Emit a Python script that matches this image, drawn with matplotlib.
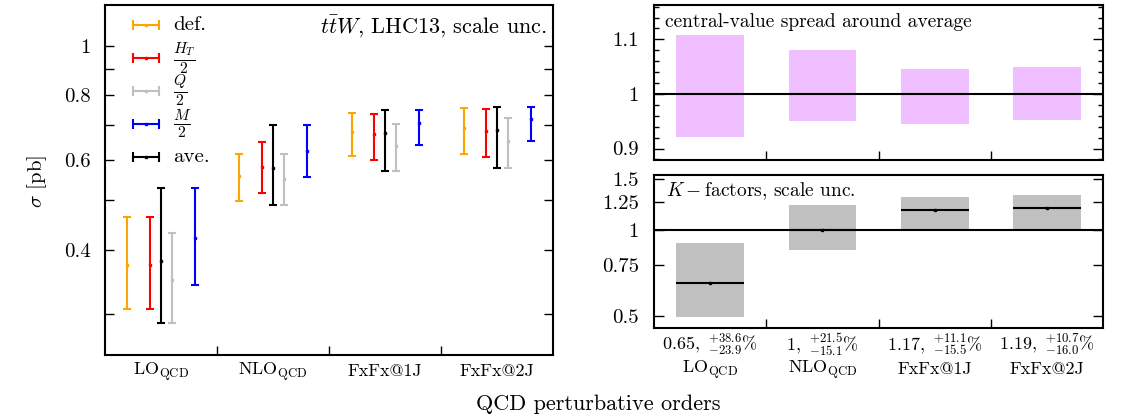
import matplotlib

matplotlib.use("Agg")
import matplotlib.pyplot as plt
import matplotlib.transforms as mtransforms
import numpy as np
from matplotlib.ticker import FixedLocator, MultipleLocator, NullFormatter, NullLocator

plt.rcParams["font.family"] = ["cmr10", "DejaVu Serif"]
plt.rcParams["mathtext.fontset"] = "cm"
plt.rcParams["axes.unicode_minus"] = False
plt.rcParams["axes.linewidth"] = 1.5

# --- data -------------------------------------------------------------------
orders = [r"$\mathrm{LO}_{\mathrm{QCD}}$", r"$\mathrm{NLO}_{\mathrm{QCD}}$", "FxFx@1J", "FxFx@2J"]

# cross sections [pb] per scale choice: central value, lower and upper scale bound
def_c = [0.3747, 0.5574, 0.6792, 0.6915]
def_lo = [0.3074, 0.4995, 0.6097, 0.6163]
def_hi = [0.4634, 0.6163, 0.7397, 0.7567]

ht_c = [0.3747, 0.5798, 0.6722, 0.6823]
ht_lo = [0.3074, 0.5156, 0.5999, 0.6069]
ht_hi = [0.4634, 0.6505, 0.7364, 0.7521]

ave_c = [0.3803, 0.5780, 0.6752, 0.6853]
ave_lo = [0.2891, 0.4906, 0.5693, 0.5780]
ave_hi = [0.5273, 0.7007, 0.7499, 0.7614]

q_c = [0.3506, 0.5490, 0.6380, 0.6525]
q_lo = [0.2891, 0.4906, 0.5693, 0.5780]
q_hi = [0.4312, 0.6144, 0.7030, 0.7245]

m_c = [0.4217, 0.6246, 0.7063, 0.7189]
m_lo = [0.3428, 0.5541, 0.6419, 0.6514]
m_hi = [0.5273, 0.7007, 0.7489, 0.7614]

# K-factors w.r.t. NLO average, with scale uncertainty in percent
k_c = [0.65, 1.0, 1.17, 1.19]
k_up = [38.6, 21.5, 11.1, 10.7]
k_dn = [23.9, 15.1, 15.5, 16.0]
k_txt = ["0.65", "1", "1.17", "1.19"]

# --- styling ----------------------------------------------------------------
series = [
    ("def.", "#ffa500", def_c, def_lo, def_hi),
    (r"$\frac{H_T}{2}$", "#ff0000", ht_c, ht_lo, ht_hi),
    ("ave.", "#000000", ave_c, ave_lo, ave_hi),
    (r"$\frac{Q}{2}$", "#c0c0c0", q_c, q_lo, q_hi),
    (r"$\frac{M}{2}$", "#0000ff", m_c, m_lo, m_hi),
]
offsets = [-0.3, -0.1, 0.0, 0.1, 0.3]
legend_order = [0, 1, 3, 4, 2]

W, H = 1122, 419


def px_axes(x0, y0, x1, y1):
    return [x0 / W, 1 - y1 / H, (x1 - x0) / W, (y1 - y0) / H]


fig = plt.figure(figsize=(W / 100, H / 100), dpi=100)
ax = fig.add_axes(px_axes(105, 5, 553.3, 355))
ax_top = fig.add_axes(px_axes(654, 5.5, 1103.3, 160))
ax_k = fig.add_axes(px_axes(654, 175, 1103.3, 328.3))

x = np.arange(len(orders))


def style_x(a):
    a.set_xlim(-0.5, len(orders) - 0.5)
    a.xaxis.set_major_locator(FixedLocator(x))
    a.xaxis.set_major_formatter(NullFormatter())
    a.xaxis.set_minor_locator(FixedLocator(x[:-1] + 0.5))
    a.tick_params(axis="x", which="major", length=0)
    a.tick_params(axis="x", which="minor", direction="in", length=6.5, width=1.0)


# --- left: cross sections ---------------------------------------------------
for (label, color, c, lo, hi), off in zip(series, offsets):
    c, lo, hi = np.asarray(c), np.asarray(lo), np.asarray(hi)
    ax.errorbar(x + off, c, yerr=[c - lo, hi - c], fmt="s", ms=2, color=color,
                lw=1.5, capsize=2.6, capthick=1.5)

ax.set_yscale("log")
ax.set_ylim(0.25, 1.2)
ax.yaxis.set_major_locator(FixedLocator([0.4, 0.6, 0.8, 1.0]))
ax.set_yticklabels(["0.4", "0.6", "0.8", "1"])
ax.yaxis.set_minor_locator(FixedLocator([0.3, 0.5, 0.7, 0.9]))
ax.yaxis.set_minor_formatter(NullFormatter())
ax.tick_params(axis="y", which="both", direction="in", length=6.5, width=1.0,
               left=True, right=True, pad=10.5, labelsize=15)
style_x(ax)

lbl_tr = mtransforms.blended_transform_factory(ax.transData, ax.transAxes)
for xi, name in zip(x, orders):
    ax.text(xi, -0.048, name, transform=lbl_tr, ha="center", va="center", fontsize=13)

# legend drawn as horizontal error bars
for row, idx in enumerate(legend_order):
    label, color = series[idx][0], series[idx][1]
    ly = 0.943 - row * 0.094
    ax.plot([0.063, 0.121], [ly, ly], transform=ax.transAxes, color=color, lw=1.5,
            marker="|", ms=7, mew=1.5, clip_on=False)
    ax.plot([0.092], [ly], transform=ax.transAxes, color=color, marker="s", ms=2)
    ax.text(0.152, ly, label, transform=ax.transAxes, ha="left", va="center",
            fontsize=16 if label.startswith("$") else 15)

ax.text(0.986, 0.937, r"$t\bar{t}W$, LHC13, scale unc.", transform=ax.transAxes,
        ha="right", va="center", fontsize=16)

# --- right top: spread of central values around the average ------------------
centrals = np.array([def_c, ht_c, q_c, m_c])
spread_hi = centrals.max(axis=0) / np.asarray(ave_c)
spread_lo = centrals.min(axis=0) / np.asarray(ave_c)
ax_top.bar(x, spread_hi - spread_lo, bottom=spread_lo, width=0.6, color="#efbfff")
ax_top.axhline(1.0, color="black", lw=1.5)
ax_top.set_ylim(0.879, 1.162)
ax_top.yaxis.set_major_locator(FixedLocator([0.9, 1.0, 1.1]))
ax_top.set_yticklabels(["0.9", "1", "1.1"])
ax_top.yaxis.set_minor_locator(MultipleLocator(0.02))
ax_top.tick_params(axis="y", which="major", direction="in", length=7, width=1.0,
                   left=True, right=True, pad=11, labelsize=15)
ax_top.tick_params(axis="y", which="minor", direction="in", length=3.5, width=1.0,
                   left=True, right=True)
style_x(ax_top)
ax_top.text(0.024, 0.895, "central-value spread around average", transform=ax_top.transAxes,
            ha="left", va="center", fontsize=14)

# --- right bottom: K-factors ------------------------------------------------
k_c_arr = np.asarray(k_c)
k_hi = k_c_arr * (1 + np.asarray(k_up) / 100)
k_lo = k_c_arr * (1 - np.asarray(k_dn) / 100)
ax_k.bar(x, k_hi - k_lo, bottom=k_lo, width=0.6, color="#c0c0c0")
ax_k.axhline(1.0, color="black", lw=1.5)
ax_k.errorbar(x, k_c_arr, xerr=0.3, fmt="s", ms=2, color="black", lw=1.5, capsize=0)
ax_k.set_yscale("log")
ax_k.set_ylim(0.453, 1.55)
ax_k.yaxis.set_major_locator(FixedLocator([0.5, 0.75, 1.0, 1.25, 1.5]))
ax_k.set_yticklabels(["0.5", "0.75", "1", "1.25", "1.5"])
ax_k.yaxis.set_minor_locator(NullLocator())
ax_k.tick_params(axis="y", which="major", direction="in", length=7, width=1.0,
                 left=True, right=True, pad=11, labelsize=15)
style_x(ax_k)
ax_k.text(0.026, 0.896, r"$K-$factors, scale unc.", transform=ax_k.transAxes,
          ha="left", va="center", fontsize=14)

k_tr = mtransforms.blended_transform_factory(ax_k.transData, ax_k.transAxes)
for xi, txt, up, dn, name in zip(x, k_txt, k_up, k_dn, orders):
    ax_k.text(xi, -0.105, rf"${txt},\ {{}}^{{+{up:.1f}}}_{{-{dn:.1f}}}\%$", transform=k_tr,
              ha="center", va="center", fontsize=13)
    ax_k.text(xi, -0.268, name, transform=k_tr, ha="center", va="center", fontsize=13)

fig.text(37.5 / W, 1 - 181 / H, r"$\sigma$ [pb]", rotation=90, ha="center", va="center",
         fontsize=15)
fig.text(598 / W, 1 - 404 / H, "QCD perturbative orders", ha="center", va="center",
         fontsize=16)

fig.savefig("out.png", dpi=100)
